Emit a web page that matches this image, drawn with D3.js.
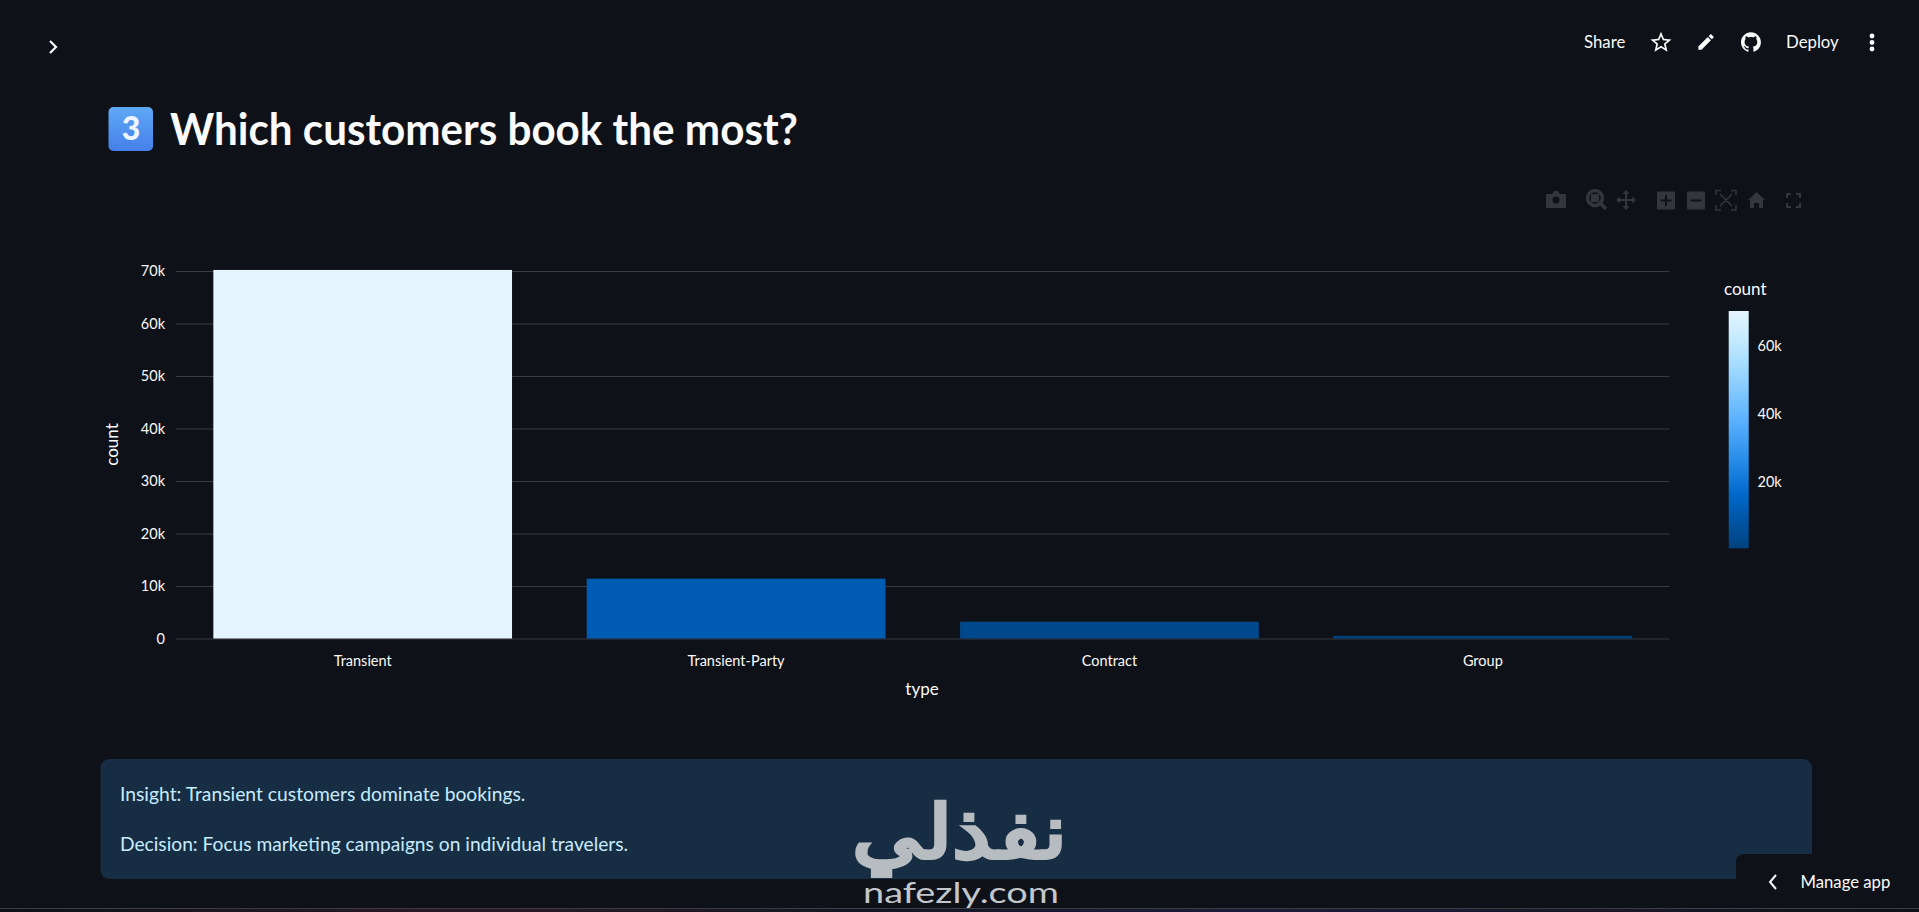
<!DOCTYPE html>
<html>
<head>
<meta charset="utf-8">
<title>Which customers book the most?</title>
<script src="https://cdn.jsdelivr.net/npm/d3@7"></script>
<style>
  html, body { margin: 0; padding: 0; background: #0e1117; overflow: hidden; }
  svg { display: block; }
  text { font-family: Lato, "Noto Sans", sans-serif; }
</style>
</head>
<body>
<svg id="page" width="1919" height="912"></svg>
<script>
// chart values
const categories = ["Transient", "Transient-Party", "Contract", "Group"];
const counts = [70200, 11400, 3200, 500];
const yTicks = [0, 10000, 20000, 30000, 40000, 50000, 60000, 70000];
const legendTicks = [20000, 40000, 60000];
// streamlit sequential blue, low to high
const blues = ["#004280", "#0054a3", "#0068c9", "#1c83e1", "#3d9df3", "#60b4ff", "#83c9ff", "#a6dcff", "#c7ebff", "#e4f5ff"];

const svg = d3.select("#page");
const defs = svg.append("defs");
const fmtK = v => v === 0 ? "0" : (v / 1000) + "k";
const font = 'Lato, "Noto Sans", sans-serif';

const x = d3.scaleBand().domain(categories).range([176, 1669.5]).paddingInner(0.2).paddingOuter(0.1);
const y = d3.scaleLinear().domain([0, 70000]).range([638.5, 271]);

const color = d3.scaleLinear()
  .domain(blues.map((c, i) => d3.min(counts) + i * (d3.max(counts) - d3.min(counts)) / (blues.length - 1)))
  .range(blues);

// top bar
svg.append("path")
  .attr("d", "M50 41 L56 47 L50 53")
  .attr("fill", "none").attr("stroke", "#fafafa").attr("stroke-width", 2.2);

const head = svg.append("g").attr("fill", "#fafafa").attr("font-size", 16.8);
head.append("text").attr("x", 1584).attr("y", 48).text("Share");
head.append("text").attr("x", 1786).attr("y", 48).text("Deploy");
svg.append("path")
  .attr("transform", "translate(1648.4,29.7) scale(1.05)")
  .attr("d", "M22 9.24l-7.19-.62L12 2 9.19 8.63 2 9.24l5.46 4.73L5.82 21 12 17.27 18.18 21l-1.63-7.03L22 9.24zM12 15.4l-3.76 2.27 1-4.28-3.32-2.88 4.38-.38L12 6.1l1.71 4.04 4.38.38-3.32 2.88 1 4.28L12 15.4z")
  .attr("fill", "#fafafa");
svg.append("path")
  .attr("transform", "translate(1695.8,31.8) scale(0.85)")
  .attr("d", "M3 17.25V21h3.75L17.81 9.94l-3.75-3.75L3 17.25zM20.71 7.04c.39-.39.39-1.02 0-1.41l-2.34-2.34c-.39-.39-1.02-.39-1.41 0l-1.83 1.83 3.75 3.75 1.83-1.83z")
  .attr("fill", "#fafafa");
svg.append("path")
  .attr("transform", "translate(1741,32) scale(0.83)")
  .attr("d", "M12 .297c-6.63 0-12 5.373-12 12 0 5.303 3.438 9.8 8.205 11.385.6.113.82-.258.82-.577 0-.285-.01-1.04-.015-2.04-3.338.724-4.042-1.61-4.042-1.61C4.422 18.07 3.633 17.7 3.633 17.7c-1.087-.744.084-.729.084-.729 1.205.084 1.838 1.236 1.838 1.236 1.07 1.835 2.809 1.305 3.495.998.108-.776.417-1.305.76-1.605-2.665-.3-5.466-1.332-5.466-5.93 0-1.31.465-2.38 1.235-3.22-.135-.303-.54-1.523.105-3.176 0 0 1.005-.322 3.3 1.23.96-.267 1.98-.399 3-.405 1.02.006 2.04.138 3 .405 2.28-1.552 3.285-1.23 3.285-1.23.645 1.653.24 2.873.12 3.176.765.84 1.23 1.91 1.23 3.22 0 4.61-2.805 5.625-5.475 5.92.42.36.81 1.096.81 2.22 0 1.606-.015 2.896-.03 3.286 0 .315.21.69.825.57C20.565 22.092 24 17.592 24 12.297c0-6.627-5.373-12-12-12")
  .attr("fill", "#fafafa");
svg.selectAll(".dot").data([36, 42.5, 49]).join("circle")
  .attr("class", "dot")
  .attr("cx", 1872).attr("cy", d => d).attr("r", 2.4).attr("fill", "#fafafa");

// heading
const key = defs.append("linearGradient")
  .attr("id", "keycap").attr("x1", 0).attr("x2", 0).attr("y1", 0).attr("y2", 1);
key.append("stop").attr("offset", 0).attr("stop-color", "#5fa8f5");
key.append("stop").attr("offset", 1).attr("stop-color", "#4580ea");
svg.append("rect").attr("x", 108.5).attr("y", 107).attr("width", 44.5).attr("height", 44).attr("rx", 5).attr("fill", "url(#keycap)");
svg.append("text").attr("x", 131).attr("y", 140).attr("text-anchor", "middle")
  .attr("font-size", 32).attr("font-weight", 900).attr("fill", "#f0f6ff").text("3");
svg.append("text").attr("x", 170).attr("y", 145)
  .attr("font-size", 43.5).attr("font-weight", 700).attr("fill", "#fafafa")
  .attr("textLength", 628).attr("lengthAdjust", "spacingAndGlyphs")
  .text("Which customers book the most?");

// plotly modebar, greyed out
const modeCol = "#34363c";
const mode = svg.append("g").attr("fill", modeCol);
mode.append("path").attr("d", "M1546 194 h6 l2 -3 h4 l2 3 h6 v14 h-20 Z");
mode.append("circle").attr("cx", 1556).attr("cy", 200).attr("r", 3.5).attr("fill", "#0e1117");
mode.append("circle").attr("cx", 1595).attr("cy", 198).attr("r", 7.5).attr("fill", "none").attr("stroke", modeCol).attr("stroke-width", 3.5);
mode.append("rect").attr("x", 1591).attr("y", 194).attr("width", 8).attr("height", 8);
mode.append("path").attr("d", "M1600 203 L1606 209").attr("stroke", modeCol).attr("stroke-width", 3.5);
mode.append("path").attr("d", "M1626 193 V207 M1619 200 H1633").attr("stroke", modeCol).attr("stroke-width", 2);
mode.append("path").attr("d", "M1626 190 l-3.5 4 h7 Z M1626 210 l-3.5 -4 h7 Z M1616 200 l4 -3.5 v7 Z M1636 200 l-4 -3.5 v7 Z");
mode.append("rect").attr("x", 1657).attr("y", 191.5).attr("width", 18).attr("height", 18).attr("rx", 1);
mode.append("path").attr("d", "M1666 195 V206 M1660.5 200.5 H1671.5").attr("stroke", "#0e1117").attr("stroke-width", 2);
mode.append("rect").attr("x", 1687).attr("y", 191.5).attr("width", 18).attr("height", 18).attr("rx", 1);
mode.append("path").attr("d", "M1690.5 200.5 H1701.5").attr("stroke", "#0e1117").attr("stroke-width", 2);
mode.append("path").attr("d", "M1716 195 V190.5 H1721 M1731 190.5 H1736 V195 M1736 205 V210 H1731 M1721 210 H1716 V205 M1720 194 L1732 206 M1732 194 L1720 206")
  .attr("fill", "none").attr("stroke", modeCol).attr("stroke-width", 1.5);
mode.append("path").attr("d", "M1748 200 L1756.5 192 L1765 200 L1763 200 V208 H1759 V203 H1754 V208 H1750 V200 Z");
mode.append("path").attr("d", "M1791 194 H1787 V198 M1796 194 H1800 V198 M1800 203 V207 H1796 M1791 207 H1787 V203")
  .attr("fill", "none").attr("stroke", modeCol).attr("stroke-width", 2);

// gridlines and bars
const yAxis = svg.append("g").attr("transform", "translate(176,0)")
  .call(d3.axisLeft(y).tickValues(yTicks).tickFormat(fmtK).tickSize(-(1669.5 - 176)).tickPadding(11));
yAxis.select(".domain").remove();
yAxis.selectAll(".tick line").attr("stroke", "#383a40").attr("stroke-width", 1.2);
yAxis.selectAll(".tick text").attr("fill", "#fafafa").attr("font-size", 14.5).attr("font-family", font);

svg.selectAll(".bar").data(categories).join("rect")
  .attr("class", "bar")
  .attr("x", d => x(d))
  .attr("width", x.bandwidth())
  .attr("y", (d, i) => y(counts[i]))
  .attr("height", (d, i) => y(0) - y(counts[i]))
  .attr("fill", (d, i) => color(counts[i]));

const xAxis = svg.append("g").attr("transform", "translate(0,638.5)")
  .call(d3.axisBottom(x).tickSize(0).tickPadding(17));
xAxis.select(".domain").remove();
xAxis.selectAll(".tick text").attr("fill", "#fafafa").attr("font-size", 14.5).attr("font-family", font);

svg.append("text").attr("x", 922).attr("y", 695).attr("text-anchor", "middle")
  .attr("font-size", 17).attr("fill", "#fafafa").text("type");
svg.append("text").attr("transform", "translate(118,444.5) rotate(-90)").attr("text-anchor", "middle")
  .attr("font-size", 17).attr("fill", "#fafafa").text("count");

// colorbar
const barY = d3.scaleLinear().domain([d3.min(counts), d3.max(counts)]).range([548.3, 311]);
const grad = defs.append("linearGradient")
  .attr("id", "cbar").attr("x1", 0).attr("x2", 0).attr("y1", 1).attr("y2", 0);
blues.forEach((c, i) => grad.append("stop").attr("offset", i / (blues.length - 1)).attr("stop-color", c));
svg.append("rect").attr("x", 1728.7).attr("y", 311).attr("width", 20).attr("height", 237.3).attr("fill", "url(#cbar)");
svg.append("text").attr("x", 1724).attr("y", 295).attr("font-size", 17).attr("fill", "#fafafa").text("count");
svg.selectAll(".cb").data(legendTicks).join("text")
  .attr("class", "cb")
  .attr("x", 1757.5).attr("y", d => barY(d) + 5.5)
  .attr("font-size", 14.5).attr("fill", "#fafafa").text(fmtK);

// insight box
svg.append("rect").attr("x", 100.5).attr("y", 759).attr("width", 1711.5).attr("height", 120).attr("rx", 9).attr("fill", "#172d43");
svg.append("text").attr("x", 120).attr("y", 801).attr("font-size", 19.3).attr("fill", "#c7ebff")
  .text("Insight: Transient customers dominate bookings.");
svg.append("text").attr("x", 120).attr("y", 851).attr("font-size", 19.2).attr("fill", "#c7ebff")
  .text("Decision: Focus marketing campaigns on individual travelers.");

// manage app tab
svg.append("path").attr("d", "M1736 912 V862 Q1736 854 1744 854 H1919 V912 Z").attr("fill", "#0e1117");
svg.append("path").attr("d", "M1776 875 L1770 882 L1776 889").attr("fill", "none").attr("stroke", "#fafafa").attr("stroke-width", 2);
svg.append("text").attr("x", 1800.5).attr("y", 888).attr("font-size", 16.7).attr("fill", "#fafafa").text("Manage app");

// watermark
svg.append("text").attr("transform", "translate(960,858) scale(1.17,1)").attr("text-anchor", "middle")
  .attr("font-family", '"DejaVu Sans", sans-serif').attr("font-size", 74).attr("font-weight", 700)
  .attr("fill", "#b7bcc1").attr("stroke", "#b7bcc1").attr("stroke-width", 1.5).text("نفذلي");
svg.append("text").attr("x", 961).attr("y", 903).attr("text-anchor", "middle")
  .attr("font-family", '"DejaVu Sans", sans-serif').attr("font-size", 29)
  .attr("textLength", 196).attr("lengthAdjust", "spacingAndGlyphs")
  .attr("fill", "#c3c7cb").text("nafezly.com");

// window edge at the bottom
const edge = defs.append("linearGradient").attr("id", "edge");
[[0, "#0e1117"], [0.25, "#2a1a28"], [0.45, "#121622"], [0.65, "#1a1c3a"], [0.85, "#1a1626"], [1, "#0e1117"]]
  .forEach(s => edge.append("stop").attr("offset", s[0]).attr("stop-color", s[1]));
svg.append("rect").attr("x", 0).attr("y", 909).attr("width", 1919).attr("height", 3).attr("fill", "url(#edge)");
svg.append("rect").attr("x", 0).attr("y", 908).attr("width", 1919).attr("height", 1).attr("fill", "#3b3d42");
</script>
</body>
</html>
